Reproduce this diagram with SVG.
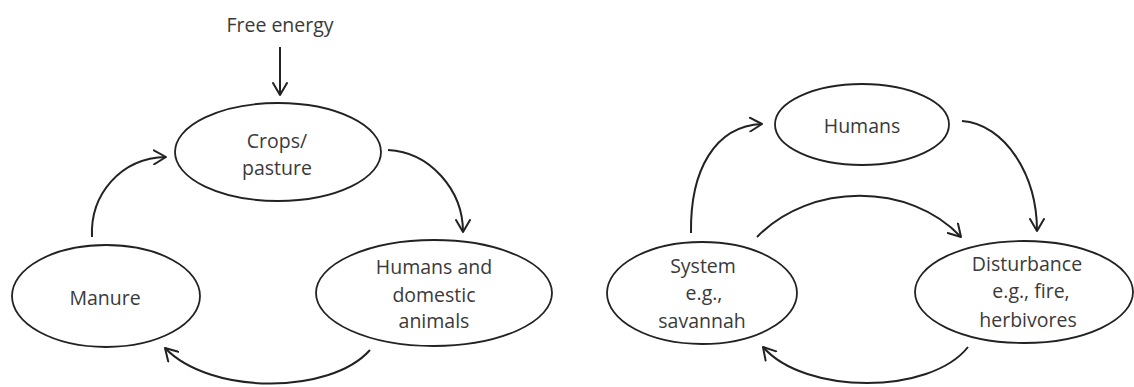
<svg xmlns="http://www.w3.org/2000/svg" width="1134" height="387" viewBox="0 0 1134 387">
  <defs>
    <style>
      .node ellipse { fill: #ffffff; stroke: #222222; stroke-width: 1.8; }
      .node text, .label { font-family: "Open Sans", "Liberation Sans", sans-serif; font-size: 19.5px; fill: #3a3a3a; text-anchor: middle; }
      .edge { fill: none; stroke: #222222; stroke-width: 2; marker-end: url(#arrow); }
    </style>
    <marker id="arrow" viewBox="0 0 14 16" refX="13" refY="8" markerWidth="14" markerHeight="16" markerUnits="userSpaceOnUse" orient="auto">
      <path d="M1,1 L13,8 L1,15" fill="none" stroke="#222222" stroke-width="2" stroke-linecap="round" stroke-linejoin="round"/>
    </marker>
  </defs>
  <rect x="0" y="0" width="1134" height="387" fill="#ffffff"/>

  <text class="label" x="280" y="32">Free energy</text>

  <g id="crops" class="node">
    <ellipse cx="278" cy="152" rx="103" ry="49"/>
    <text x="277" y="148">Crops/</text>
    <text x="277" y="175">pasture</text>
  </g>
  <g id="manure" class="node">
    <ellipse cx="106" cy="296" rx="94" ry="51"/>
    <text x="105" y="305">Manure</text>
  </g>
  <g id="humans-animals" class="node">
    <ellipse cx="434" cy="293" rx="118" ry="53"/>
    <text x="434" y="274">Humans and</text>
    <text x="434" y="302">domestic</text>
    <text x="434" y="328">animals</text>
  </g>
  <g id="humans" class="node">
    <ellipse cx="862" cy="124.5" rx="87" ry="40.5"/>
    <text x="862" y="133">Humans</text>
  </g>
  <g id="system" class="node">
    <ellipse cx="702" cy="293" rx="95" ry="51"/>
    <text x="703" y="273">System</text>
    <text x="704" y="300">e.g.,</text>
    <text x="702" y="328">savannah</text>
  </g>
  <g id="disturbance" class="node">
    <ellipse cx="1024" cy="292" rx="109" ry="51"/>
    <text x="1027" y="271">Disturbance</text>
    <text x="1031" y="298">e.g., fire,</text>
    <text x="1028" y="327">herbivores</text>
  </g>

  <g id="connectors">
    <path class="edge" d="M280,47 L280,95"/>
    <path class="edge" d="M92,237 C90,195 120,158 166,157"/>
    <path class="edge" d="M388,150 C430,152 463,190 463,232"/>
    <path class="edge" d="M370,350 C330,395 210,395 165,348"/>
    <path class="edge" d="M691,233 C690,170 715,126 762,124"/>
    <path class="edge" d="M962,121 C1005,124 1037,175 1037,231"/>
    <path class="edge" d="M757,237 C810,182 910,182 961,237"/>
    <path class="edge" d="M968,347 C930,395 805,395 763,347"/>
  </g>
</svg>
